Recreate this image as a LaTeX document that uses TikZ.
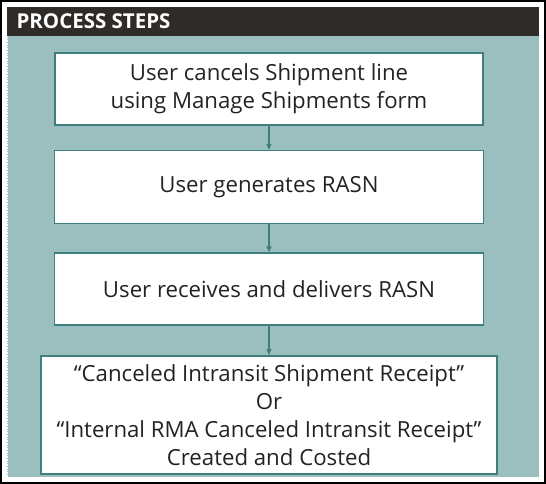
\documentclass[tikz,border=0pt]{standalone}
\usepackage{fontspec}
\setmainfont{Open Sans}
\usetikzlibrary{arrows.meta,positioning}
\definecolor{pane}{HTML}{9BBFBF}
\definecolor{edge}{HTML}{3E7E7C}
\definecolor{bar}{HTML}{2F2B28}
\tikzset{
  stepbox/.style={rectangle, draw=edge, fill=white, line width=1.6pt,
                  align=center, inner sep=3pt, font=\fontsize{22.2}{28}\selectfont,
                  text=bar!80!black},
  flow/.style={-{Triangle[length=6pt,width=5pt]}, draw=edge, line width=1.1pt}
}
\begin{document}
\begin{tikzpicture}[x=1pt,y=1pt]
 \useasboundingbox (0,0) rectangle (546,484);
 \draw[line width=2pt] (1,1) rectangle (545,483);
 \fill[pane] (7,7) rectangle (539,449);
 \draw[white, densely dotted, line width=0.6pt] (7,7) rectangle (539,449);
 \fill[bar] (7,448) rectangle (539,477);
 \node[anchor=west, text=white, font=\fontsize{20.5}{24}\selectfont\bfseries] (title) at (13,463) {PROCESS STEPS};
 \node[stepbox, minimum width=428pt, minimum height=72pt] (cancel) at (269,395) {User cancels Shipment line\\using Manage Shipments form};
 \node[stepbox, minimum width=429pt, minimum height=73pt, below=24pt of cancel] (gen) {User generates RASN};
 \node[stepbox, minimum width=429pt, minimum height=72pt, below=28pt of gen] (recv) {User receives and delivers RASN};
 \node[stepbox, minimum width=456pt, minimum height=118pt, below=29pt of recv] (cost) {“Canceled Intransit Shipment Receipt”\\Or\\“Internal RMA Canceled Intransit Receipt”\\Created and Costed};
 \draw[flow] (cancel) -- (gen);
 \draw[flow] (gen) -- (recv);
 \draw[flow] (recv) -- (cost);
\end{tikzpicture}
\end{document}
